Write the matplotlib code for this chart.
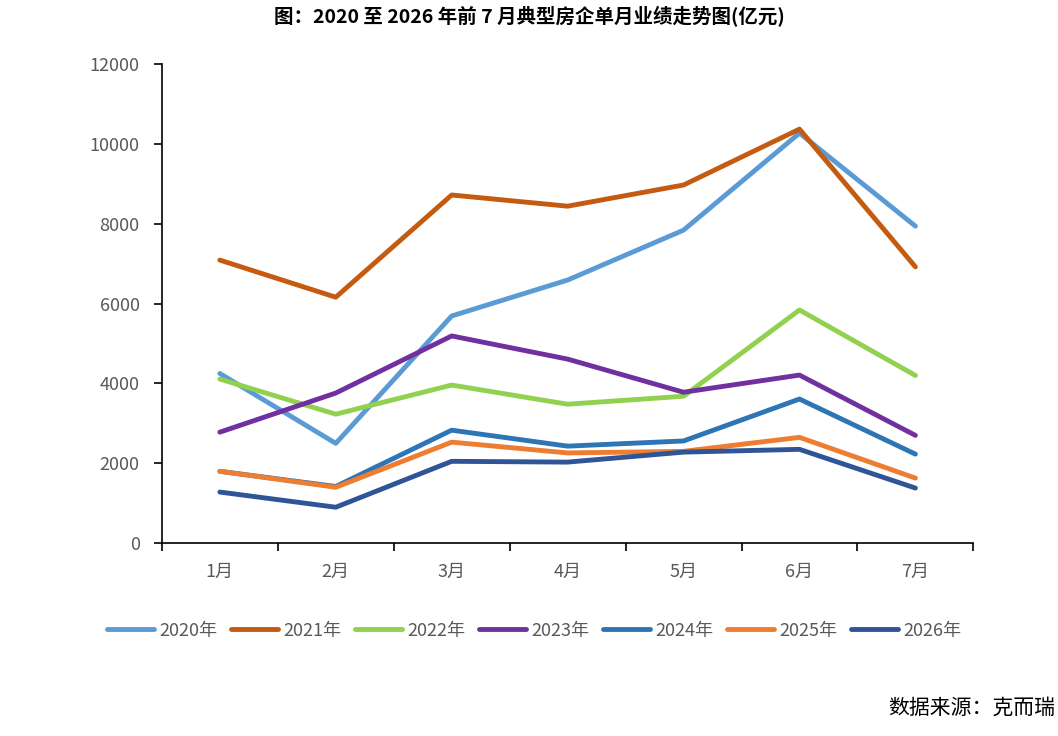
import matplotlib
matplotlib.use('Agg')
import matplotlib.pyplot as plt
import numpy as np

plt.rcParams['font.family'] = ['Noto Sans CJK SC', 'DejaVu Sans']

# 数据（亿元）
months = ['1月', '2月', '3月', '4月', '5月', '6月', '7月']
years = ['2020年', '2021年', '2022年', '2023年', '2024年', '2025年', '2026年']
v2020 = [4250, 2500, 5690, 6590, 7840, 10270, 7940]
v2021 = [7090, 6160, 8720, 8440, 8970, 10370, 6920]
v2022 = [4110, 3230, 3960, 3480, 3680, 5840, 4200]
v2023 = [2780, 3760, 5190, 4610, 3780, 4210, 2700]
v2024 = [1800, 1420, 2830, 2430, 2560, 3610, 2230]
v2025 = [1800, 1400, 2530, 2260, 2300, 2650, 1630]
v2026 = [1280, 900, 2050, 2030, 2280, 2350, 1380]
series = [v2020, v2021, v2022, v2023, v2024, v2025, v2026]
colors = ['#5B9BD5', '#C55A11', '#92D050', '#7030A0', '#2E75B6', '#ED7D31', '#2F5597']

fig = plt.figure(figsize=(10.58, 7.36), dpi=100)
ax = fig.add_axes([0.153, 0.262, 0.767, 0.651])

x = np.arange(len(months))
for name, vals, c in zip(years, series, colors):
    ax.plot(x, vals, color=c, lw=3.5, label=name, solid_capstyle='round')

ax.set_xlim(-0.5, len(months) - 0.5)
ax.set_ylim(0, 12000)
ax.set_yticks(range(0, 12001, 2000))
ax.set_xticks(x)
ax.set_xticklabels(months)
ax.set_xticks(np.arange(-0.5, len(months), 1), minor=True)
ax.tick_params(axis='x', which='major', length=0, pad=14, labelsize=13, labelcolor='#595959')
ax.tick_params(axis='x', which='minor', length=6, width=1.2, direction='out')
ax.tick_params(axis='y', length=6, width=1.2, direction='out', pad=10, labelsize=13, labelcolor='#595959')
for s in ['top', 'right']:
    ax.spines[s].set_visible(False)
for s in ['left', 'bottom']:
    ax.spines[s].set_linewidth(1.2)

fig.text(0.5, 0.978, '图：2020 至 2026 年前 7 月典型房企单月业绩走势图(亿元)',
         ha='center', va='center', fontsize=14, fontweight='bold')

fig.legend(loc='center', bbox_to_anchor=(0.505, 0.143), ncol=7, frameon=False,
           fontsize=13, handlelength=2.6, columnspacing=0.75, handletextpad=0.3,
           labelcolor='#595959')

fig.text(0.997, 0.038, '数据来源：克而瑞', ha='right', va='center', fontsize=15)

fig.savefig('out.png', dpi=100)
